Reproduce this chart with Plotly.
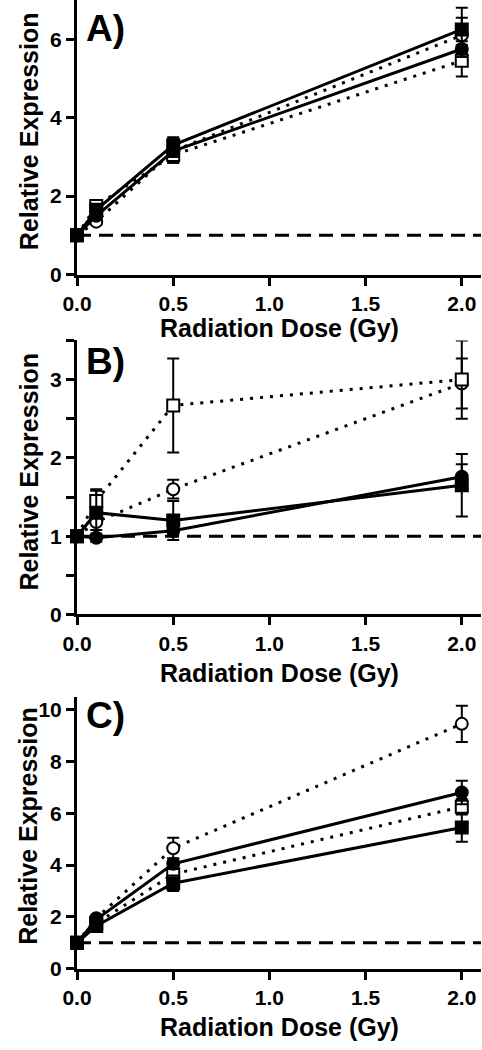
import plotly.graph_objects as go

W, H = 482, 1050

dose = [0.0, 0.1, 0.5, 2.0]

# Panel A
a_fsq = [1.0, 1.65, 3.30, 6.25]; a_fsq_err = [0, 0.10, 0.20, 0.55]
a_fci = [1.0, 1.50, 3.15, 5.75]; a_fci_err = [0, 0.08, 0.15, 0.20]
a_osq = [1.0, 1.75, 3.05, 5.45]; a_osq_err = [0, 0.08, 0.20, 0.40]
a_oci = [1.0, 1.35, 3.15, 6.10]; a_oci_err = [0, 0.08, 0.30, 0.45]

# Panel B
b_fsq = [1.0, 1.30, 1.20, 1.65]; b_fsq_err = [0, 0.28, 0.25, 0.40]
b_fci = [1.0, 0.98, 1.07, 1.76]; b_fci_err = [0, 0.05, 0.05, 0.16]
b_osq = [1.0, 1.45, 2.67, 3.00]; b_osq_err = [0, 0.15, 0.60, 0.50]
b_oci = [1.0, 1.18, 1.60, 2.95]; b_oci_err = [0, 0.10, 0.12, 0.32]

# Panel C
c_fsq = [1.0, 1.65, 3.30, 5.45]; c_fsq_err = [0, 0.10, 0.30, 0.55]
c_fci = [1.0, 1.90, 4.05, 6.80]; c_fci_err = [0, 0.10, 0.20, 0.45]
c_osq = [1.0, 1.75, 3.65, 6.25]; c_osq_err = [0, 0.10, 0.20, 0.30]
c_oci = [1.0, 1.95, 4.65, 9.45]; c_oci_err = [0, 0.10, 0.40, 0.70]

baseline = 1.0
panel_labels = ["A)", "B)", "C)"]
x_title = "Radiation Dose (Gy)"
y_title = "Relative Expression"

FONT = "Liberation Sans, Arial, sans-serif"

def py(px):
    return 1 - px / H

panels = [
    dict(top=0.0, bot=277.5, yr=[0, 7.0], dtick=2, minor=None,
         data=[(a_oci, a_oci_err, "o"), (a_osq, a_osq_err, "os"), (a_fci, a_fci_err, "f"), (a_fsq, a_fsq_err, "fs")],
         lab_top=6, xt=331, yt=133),
    dict(top=344.0, bot=621.0, yr=[0, 3.5], dtick=1, minor=0.5,
         data=[(b_oci, b_oci_err, "o"), (b_osq, b_osq_err, "os"), (b_fci, b_fci_err, "f"), (b_fsq, b_fsq_err, "fs")],
         lab_top=343, xt=680, yt=477),
    dict(top=704.0, bot=979.0, yr=[0, 10.5], dtick=2, minor=None,
         data=[(c_oci, c_oci_err, "o"), (c_osq, c_osq_err, "os"), (c_fci, c_fci_err, "f"), (c_fsq, c_fsq_err, "fs")],
         lab_top=700, xt=1038, yt=835),
]

styles = {
    "fs": dict(symbol="square", color="black", dash="solid"),
    "f": dict(symbol="circle", color="black", dash="solid"),
    "os": dict(symbol="square", color="white", dash="3px,7px"),
    "o": dict(symbol="circle", color="white", dash="3px,7px"),
}

fig = go.Figure()
layout = dict(
    width=W, height=H, margin=dict(l=0, r=0, t=0, b=0),
    paper_bgcolor="white", plot_bgcolor="white", showlegend=False,
    font=dict(family=FONT, color="black", size=21, weight="bold"),
)
annotations = []
shapes = []

x0px, x1px = 64, 481
for i, p in enumerate(panels):
    n = "" if i == 0 else str(i + 1)
    xa, ya = "x" + n, "y" + n
    layout["xaxis" + n] = dict(
        domain=[x0px / W, x1px / W], range=[0, 2.1], anchor=ya,
        tick0=0, dtick=0.5, tickformat=".1f",
        showline=True, linewidth=3, linecolor="black",
        ticks="outside", ticklen=8, tickwidth=3, tickcolor="black",
        showgrid=False, zeroline=False,
        tickfont=dict(family=FONT, size=21, color="black", weight="bold"),
    )
    ydict = dict(
        domain=[py(p["bot"]), py(p["top"])], range=p["yr"], anchor=xa,
        tick0=0, dtick=p["dtick"],
        showline=True, linewidth=3, linecolor="black",
        ticks="outside", ticklen=8, tickwidth=3, tickcolor="black",
        showgrid=False, zeroline=False,
        tickfont=dict(family=FONT, size=21, color="black", weight="bold"),
    )
    if p["minor"]:
        ydict["minor"] = dict(dtick=p["minor"], ticks="outside", ticklen=8, tickwidth=3, tickcolor="black", showgrid=False)
    layout["yaxis" + n] = ydict

    shapes.append(dict(type="line", xref=xa + " domain", yref=ya, x0=0, x1=1, y0=baseline, y1=baseline,
                       line=dict(color="black", width=3, dash="14px,8px"), layer="below"))

    for vals, errs, key in p["data"]:
        st = styles[key]
        fig.add_trace(go.Scatter(
            x=dose, y=vals, xaxis=xa, yaxis=ya, mode="lines+markers", cliponaxis=False,
            line=dict(color="black", width=3, dash=st["dash"]),
            marker=dict(symbol=st["symbol"], size=12, color=st["color"],
                        line=dict(color="black", width=2)),
            error_y=dict(type="data", array=errs, visible=True, color="black", thickness=2, width=6),
        ))

    annotations.append(dict(text=panel_labels[i], xref="paper", yref="paper", x=71 / W, y=py(p["lab_top"]),
                            xanchor="left", yanchor="top", showarrow=False,
                            font=dict(family=FONT, size=37, color="black", weight="bold")))
    annotations.append(dict(text=x_title, xref="paper", yref="paper", x=(x0px + x1px) / 2 / W, y=py(p["xt"]),
                            xanchor="center", yanchor="middle", showarrow=False,
                            font=dict(family=FONT, size=25, color="black", weight="bold")))
    annotations.append(dict(text=y_title, xref="paper", yref="paper", x=14 / W, y=py(p["yt"]),
                            xanchor="center", yanchor="middle", textangle=-90, showarrow=False,
                            font=dict(family=FONT, size=25, color="black", weight="bold")))

layout["annotations"] = annotations
layout["shapes"] = shapes
fig.update_layout(**layout)
fig.write_html(
    "out.html",
    config={"displayModeBar": False},
    post_script="document.body.style.margin='0';document.documentElement.style.overflow='hidden';document.body.style.overflow='hidden';",
)
